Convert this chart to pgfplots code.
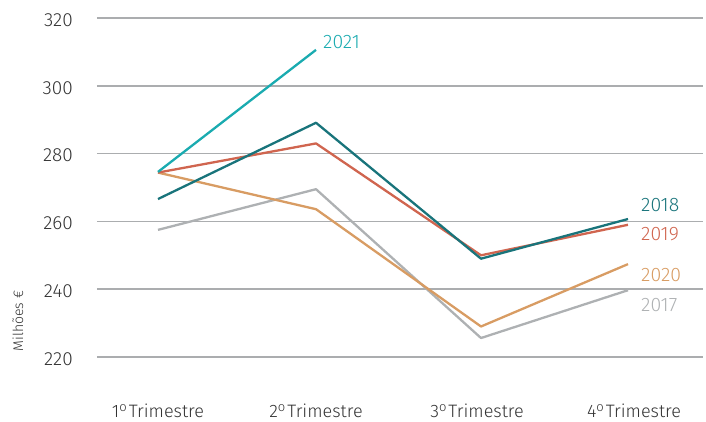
\documentclass[border=0pt]{standalone}
\usepackage{pgfplots}
\pgfplotsset{compat=1.18}
\usepackage{fontspec}
\setmainfont{Fira Sans}[UprightFont={* Light}]
\definecolor{c2021}{HTML}{1AABB0}
\definecolor{c2018}{HTML}{19747B}
\definecolor{c2019}{HTML}{D0654F}
\definecolor{c2020}{HTML}{D89C63}
\definecolor{c2017}{HTML}{AEB1B3}
\definecolor{gridc}{HTML}{ABADAF}
\definecolor{txt}{HTML}{333333}
\newcommand{\ord}{\raisebox{0.55ex}{\fontsize{13}{14}\selectfont o}\hspace{2pt}}
\begin{document}
\begin{tikzpicture}
\begin{axis}[
  scale only axis, width=606pt, height=339pt,
  xmin=97, xmax=703, ymin=220, ymax=320,
  axis line style={draw=none},
  xtick={158,316,477,634},
  xticklabels={1\ord Trimestre,2\ord Trimestre,3\ord Trimestre,4\ord Trimestre},
  ytick={220,240,260,280,300,320},
  yticklabels={220,240,260,280,300,320},
  major tick length=0pt,
  ymajorgrids, grid style={gridc, line width=1.5pt},
  yticklabel style={anchor=east, inner sep=0pt, xshift=-24pt, yshift=-2pt, font=\fontsize{19}{20}\selectfont, text=txt},
  xticklabel style={anchor=base, inner sep=0pt, yshift=-60pt, font=\fontsize{18}{19}\selectfont, text=txt},
  every axis plot/.append style={line width=2.3pt, mark=none, line join=round},
  clip=false,
]
\addplot[c2017] coordinates {(158,257.5) (316,269.5) (481,225.6) (628,239.7)};
\addplot[c2020] coordinates {(158,274.4) (316,263.6) (481,229.0) (628,247.4)};
\addplot[c2019] coordinates {(158,274.4) (316,283.0) (481,250.0) (628,259.0)};
\addplot[c2018] coordinates {(158,266.6) (316,289.1) (481,249.0) (628,260.7)};
\addplot[c2021] coordinates {(158,274.6) (316,310.6)};
\node[anchor=west, inner sep=0pt, text=c2021, font=\fontsize{19.5}{21}\selectfont] at (axis cs:323,312.9) {2021};
\node[anchor=west, inner sep=0pt, text=c2018, font=\fontsize{19.5}{21}\selectfont] at (axis cs:641,264.8) {2018};
\node[anchor=west, inner sep=0pt, text=c2019, font=\fontsize{19.5}{21}\selectfont] at (axis cs:641,256.2) {2019};
\node[anchor=west, inner sep=0pt, text=c2020, font=\fontsize{19.5}{21}\selectfont] at (axis cs:641,244.2) {2020};
\node[anchor=west, inner sep=0pt, text=c2017, font=\fontsize{19.5}{21}\selectfont] at (axis cs:641,235.3) {2017};
\end{axis}
\node[rotate=90, inner sep=0pt, text=txt, font=\fontsize{14}{16}\selectfont] at (-79pt,36pt) {Milhões €};
\useasboundingbox (-97pt,-64pt) rectangle (609pt,357pt);
\end{tikzpicture}
\end{document}
